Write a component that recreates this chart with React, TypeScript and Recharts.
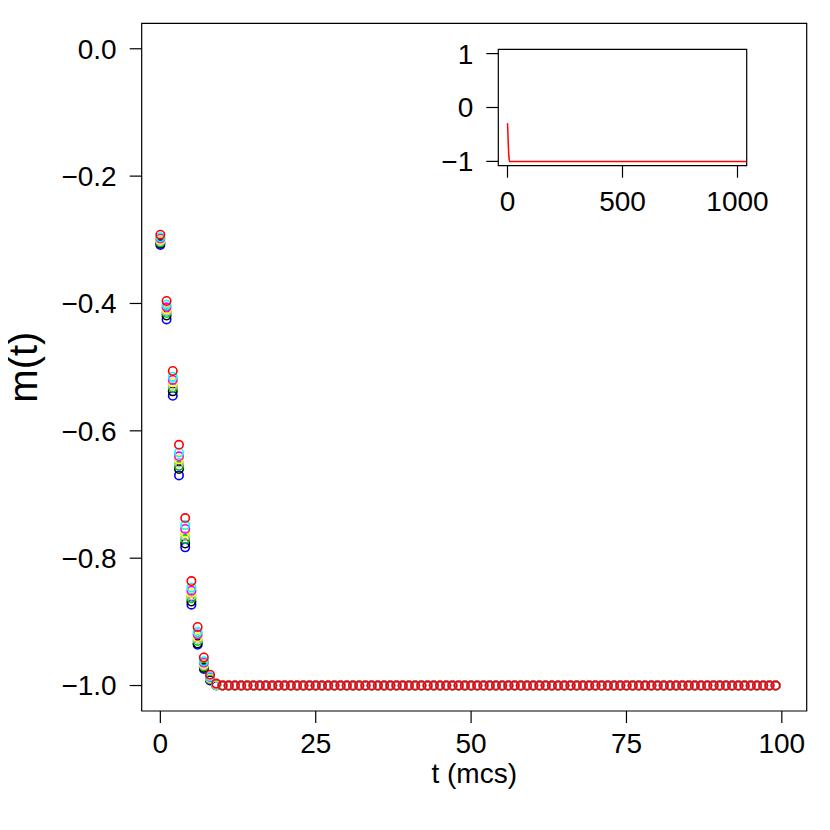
import React from 'react';
import {
  ScatterChart,
  Scatter,
  LineChart,
  Line,
  XAxis,
  YAxis,
  ReferenceArea,
} from 'recharts';

// m(t) for t = 0..9, one list per run; all runs settle at -1 afterwards
const tHead = [0, 1, 2, 3, 4, 5, 6, 7, 8, 9];
const runRed = [-0.292, -0.396, -0.506, -0.622, -0.737, -0.836, -0.908, -0.956, -0.983, -0.997];
const runCyan = [-0.296, -0.402, -0.515, -0.634, -0.748, -0.846, -0.916, -0.962, -0.986, -0.998];
const runMagenta = [-0.298, -0.406, -0.52, -0.64, -0.754, -0.851, -0.92, -0.964, -0.987, -0.998];
const runYellow = [-0.3, -0.409, -0.524, -0.645, -0.76, -0.855, -0.924, -0.966, -0.988, -0.999];
const runGray = [-0.302, -0.412, -0.528, -0.65, -0.765, -0.859, -0.927, -0.968, -0.989, -0.999];
const runGreen = [-0.304, -0.415, -0.532, -0.655, -0.77, -0.863, -0.93, -0.97, -0.99, -0.999];
const runBlack = [-0.306, -0.419, -0.538, -0.66, -0.777, -0.868, -0.934, -0.972, -0.991, -0.999];
const runBlue = [-0.308, -0.425, -0.545, -0.67, -0.783, -0.873, -0.936, -0.974, -0.992, -1.0];

const settled = -1;
const tLastMain = 99;
const tLastInset = 1040;

const xTicks = [0, 25, 50, 75, 100];
const yTicks = [0, -0.2, -0.4, -0.6, -0.8, -1.0];
const insetXTicks = [0, 500, 1000];
const insetYTicks = [1, 0, -1];

// drawn in this order, so red ends up on top
const runs = [
  { name: 'blue', color: '#0000FF', head: runBlue },
  { name: 'black', color: '#000000', head: runBlack },
  { name: 'green', color: '#00CD00', head: runGreen },
  { name: 'gray', color: '#BEBEBE', head: runGray },
  { name: 'yellow', color: '#FFFF00', head: runYellow },
  { name: 'magenta', color: '#FF00FF', head: runMagenta },
  { name: 'cyan', color: '#00FFFF', head: runCyan },
  { name: 'red', color: '#FF0000', head: runRed },
];

function buildSeries(head: number[], tLast: number) {
  const rows = tHead.map((t, i) => ({ t, m: head[i] }));
  for (let t = tHead.length; t <= tLast; t++) rows.push({ t, m: settled });
  return rows;
}

const FONT = '"Liberation Sans", Arial, Helvetica, sans-serif';
const tickStyle = { fill: '#000', fontSize: 28, fontFamily: FONT };
const tickLine = { stroke: '#000', strokeWidth: 1.2 };

const fmt = (v: number, digits: number) =>
  (v < 0 ? '\u2212' : '') + Math.abs(v).toFixed(digits);

const XTitle = ({ viewBox }: any) => (
  <text
    x={viewBox.x + viewBox.width / 2}
    y={viewBox.y + 72}
    textAnchor="middle"
    fontSize={28}
    fontFamily={FONT}
    fill="#000"
  >
    t (mcs)
  </text>
);

const YTitle = ({ viewBox }: any) => {
  const cx = viewBox.x + 11;
  const cy = viewBox.y + viewBox.height / 2;
  return (
    <text
      x={cx}
      y={cy}
      dy="0.355em"
      transform={`rotate(-90 ${cx} ${cy})`}
      textAnchor="middle"
      fontSize={40}
      fontFamily={FONT}
      fill="#000"
    >
      m(t)
    </text>
  );
};

export default function App() {
  const insetData = buildSeries(runRed, tLastInset);

  return (
    <div style={{ position: 'relative', width: 830, height: 830, margin: -8, background: '#fff' }}>
      <ScatterChart
        width={830}
        height={830}
        margin={{ top: 23.3, right: 23.3, bottom: 39, left: 11.7 }}
      >
        <XAxis
          type="number"
          dataKey="t"
          domain={[-3, 104]}
          ticks={xTicks}
          allowDataOverflow
          height={80}
          axisLine={false}
          tickLine={tickLine}
          tickSize={12}
          tickMargin={10}
          tick={tickStyle}
          label={{ content: XTitle }}
        />
        <YAxis
          type="number"
          dataKey="m"
          domain={[-1.04, 0.04]}
          ticks={yTicks}
          allowDataOverflow
          width={130}
          axisLine={false}
          tickLine={tickLine}
          tickSize={12}
          tickMargin={13}
          tick={tickStyle}
          tickFormatter={(v: number) => fmt(v, 1)}
          label={{ content: YTitle }}
        />
        <ReferenceArea
          x1={-3}
          x2={104}
          y1={-1.04}
          y2={0.04}
          fill="none"
          stroke="#000"
          strokeWidth={1.2}
          ifOverflow="visible"
        />
        {runs.map((r) => (
          <Scatter
            key={r.name}
            name={r.name}
            data={buildSeries(r.head, tLastMain)}
            isAnimationActive={false}
            shape={(p: any) => (
              <circle cx={p.cx} cy={p.cy} r={4.2} fill="none" stroke={r.color} strokeWidth={1.6} />
            )}
          />
        ))}
      </ScatterChart>

      <div style={{ position: 'absolute', left: 420, top: 30 }}>
        <LineChart
          width={400}
          height={200}
          data={insetData}
          margin={{ top: 19.3, right: 73.3, bottom: 14.3, left: 28.3 }}
        >
          <XAxis
            type="number"
            dataKey="t"
            domain={[-40, 1040]}
            ticks={insetXTicks}
            allowDataOverflow
            height={50}
            axisLine={false}
            tickLine={tickLine}
            tickSize={12}
            tickMargin={13}
            tick={tickStyle}
          />
          <YAxis
            type="number"
            domain={[-1.08, 1.08]}
            ticks={insetYTicks}
            allowDataOverflow
            width={50}
            axisLine={false}
            tickLine={tickLine}
            tickSize={12}
            tickMargin={13}
            tick={tickStyle}
            tickFormatter={(v: number) => fmt(v, 0)}
          />
          <ReferenceArea
            x1={-40}
            x2={1040}
            y1={-1.08}
            y2={1.08}
            fill="none"
            stroke="#000"
            strokeWidth={1.2}
            ifOverflow="visible"
          />
          <Line
            type="linear"
            dataKey="m"
            stroke="#FF0000"
            strokeWidth={1.5}
            dot={false}
            isAnimationActive={false}
          />
        </LineChart>
      </div>
    </div>
  );
}
